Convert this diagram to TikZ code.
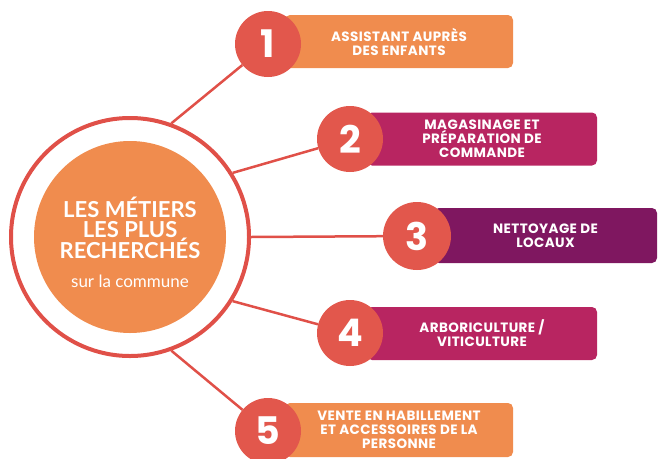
\documentclass[tikz,border=0pt]{standalone}
\usepackage{fontspec}
\setmainfont{Lato}
\newfontfamily\boxfont{Poppins}[LetterSpace=3]
\newfontfamily\numfont{Poppins}

\definecolor{ringred}{HTML}{E05048}
\definecolor{dotred}{HTML}{E2574C}
\definecolor{boxorange}{HTML}{F08C4E}
\definecolor{boxpink}{HTML}{B82561}
\definecolor{boxplum}{HTML}{7F1760}

\tikzset{
  numdot/.style={circle, fill=dotred, minimum size=66pt, inner sep=0pt, text=white,
    font=\fontsize{38}{38}\selectfont\numfont\bfseries},
  jobbox/.style={rounded corners=5pt, minimum height=53pt, inner sep=0pt, align=center,
    text=white, font=\fontsize{13.5}{14}\selectfont\boxfont\bfseries},
  link/.style={draw=ringred, line width=2.5pt}
}

\begin{document}
\begin{tikzpicture}[x=1pt,y=-1pt]
        \useasboundingbox (0,0) rectangle (660,458);
        % boxes behind the numbers
        \node[jobbox, fill=boxorange, minimum width=228pt] (b1) at (399,41.5) {ASSISTANT AUPRÈS\\DES ENFANTS};
        \node[jobbox, fill=boxpink, minimum width=230pt] (b2) at (482,139) {MAGASINAGE ET\\PRÉPARATION DE\\COMMANDE};
        \node[jobbox, fill=boxplum, minimum width=223pt, minimum height=55pt] (b3) at (545.5,235.5) {NETTOYAGE DE\\LOCAUX};
        \node[jobbox, fill=boxpink, minimum width=230pt] (b4) at (482,333.5) {ARBORICULTURE /\\VITICULTURE};
        \node[jobbox, fill=boxorange, minimum width=228pt, minimum height=54pt] (b5) at (399,430) {VENTE EN HABILLEMENT\\ET ACCESSOIRES DE LA\\PERSONNE};
        % numbers
        \node[numdot] (n1) at (268,44) {1};
        \node[numdot] (n2) at (350,139) {2};
        \node[numdot, minimum size=68pt] (n3) at (417,236) {3};
        \node[numdot] (n4) at (350,333) {4};
        \node[numdot] (n5) at (268,431) {5};
        % centre
        \node[circle, draw=ringred, line width=4pt, minimum size=238pt, inner sep=0pt] (ring) at (130,237) {};
        \node[circle, fill=boxorange, minimum size=192pt, inner sep=0pt, text=white, align=center,
          font=\fontsize{22}{20}\selectfont\bfseries] (core) at (130,237)
          {\rule{0pt}{31pt}LES MÉTIERS\\LES PLUS\\RECHERCHÉS\\[9pt]{\fontsize{17}{17}\selectfont\mdseries sur la commune}};
        % links
        \draw[link] (ring.70) -- (n1);
        \draw[link] (ring.32) -- (n2);
        \draw[link] (ring.0) -- (n3);
        \draw[link] (ring.-32) -- (n4);
        \draw[link] (ring.-70) -- (n5);
    \end{tikzpicture}
\end{document}
